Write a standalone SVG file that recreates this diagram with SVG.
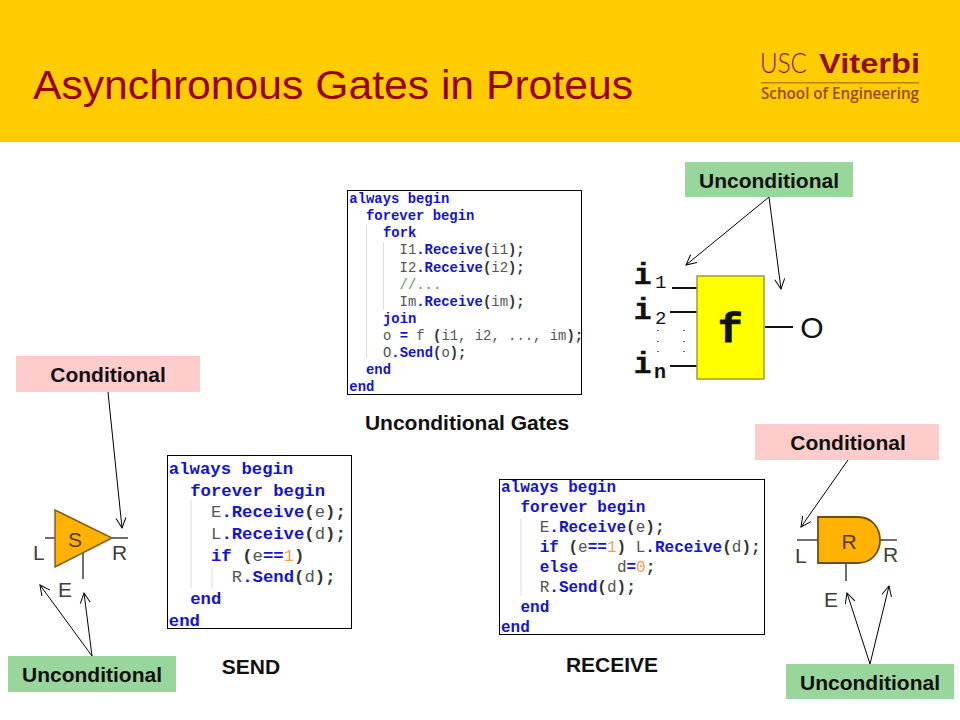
<svg xmlns="http://www.w3.org/2000/svg" width="960" height="720" viewBox="0 0 960 720">
<style>
.lbl{font-family:"Liberation Sans",Arial,sans-serif;font-weight:700;font-size:21px;fill:#111;text-anchor:middle}
.gl{font-family:"Liberation Sans",Arial,sans-serif;fill:#404040;font-size:21px}
.gi{fill:#5a3a00}
.code{font-family:"Liberation Mono","Courier New",monospace;fill:#555;white-space:pre}
.c1{font-size:13.9px}.c2{font-size:17.3px}.c3{font-size:16px}
.k{fill:#1414c8;font-weight:700}.p{fill:#333;font-weight:700}.n{fill:#f0a050}.g{fill:#5a9a5a}
.box{fill:#fff;stroke:#000;stroke-width:1}
.guide{stroke:#ddd;stroke-width:1;fill:none}
.green{fill:#99d69b}.pink{fill:#ffcccc}
.wire{stroke:#404040;stroke-width:1.5;fill:none}
.wireb{stroke:#111;stroke-width:2;fill:none}
.conn{stroke:#000;stroke-width:1;fill:none;marker-end:url(#arr)}
.mono{font-family:"Liberation Mono","Courier New",monospace;font-weight:700;fill:#111}
.sub{font-family:"Liberation Mono","Courier New",monospace;font-weight:400;fill:#111;font-size:19px}
</style>
<defs>
<marker id="arr" markerUnits="userSpaceOnUse" markerWidth="16" markerHeight="16" refX="13" refY="8" orient="auto">
<path d="M3 3 L13 8 L3 13" fill="none" stroke="#000" stroke-width="1"/>
</marker>
</defs>
<rect width="960" height="720" fill="#fff"/>
<g id="header">
<rect width="960" height="142" fill="#ffcc00"/>
<text x="33" y="99" font-family="Liberation Sans,Arial,sans-serif" font-size="40" fill="#990000" textLength="600" lengthAdjust="spacingAndGlyphs">Asynchronous Gates in Proteus</text>
</g>
<g id="logo">
<text x="760" y="73" font-family="Lato,Liberation Sans,sans-serif" font-weight="300" font-size="28" fill="#8f1010" textLength="47" lengthAdjust="spacingAndGlyphs">USC</text>
<text x="819" y="73" font-family="Liberation Sans,Arial,sans-serif" font-weight="700" font-size="28" fill="#8f1010" textLength="101" lengthAdjust="spacingAndGlyphs">Viterbi</text>
<rect x="761" y="82" width="158" height="1.5" fill="#b8860b"/>
<text x="761" y="99" font-family="Open Sans,Liberation Sans,sans-serif" font-weight="600" font-size="15.5" fill="#9a4a00" textLength="158" lengthAdjust="spacingAndGlyphs">School of Engineering</text>
</g>

<g id="code-unconditional">
<rect class="box" x="347.5" y="190.5" width="234" height="204"/>
<path class="guide" d="M366.5 225V358M383.5 242V310"/>
<g class="code c1" transform="translate(0 0.7)">
<text x="349.3" y="202.5" class="k">always begin</text>
<text x="366" y="219.6" class="k">forever begin</text>
<text x="383" y="236.7" class="k">fork</text>
<text x="399.6" y="253.8">I1<tspan class="k">.Receive</tspan><tspan class="p">(</tspan>i1<tspan class="p">);</tspan></text>
<text x="399.6" y="270.9">I2<tspan class="k">.Receive</tspan><tspan class="p">(</tspan>i2<tspan class="p">);</tspan></text>
<text x="399.6" y="288" class="g">//...</text>
<text x="399.6" y="305.1">Im<tspan class="k">.Receive</tspan><tspan class="p">(</tspan>im<tspan class="p">);</tspan></text>
<text x="383" y="322.2" class="k">join</text>
<text x="383" y="339.3">o <tspan class="k">=</tspan> f <tspan class="p">(</tspan>i1, i2, ..., im<tspan class="p">);</tspan></text>
<text x="383" y="356.4">O<tspan class="k">.Send</tspan><tspan class="p">(</tspan>o<tspan class="p">);</tspan></text>
<text x="366" y="373.5" class="k">end</text>
<text x="349.3" y="390.7" class="k">end</text>
</g>
</g>
<text id="label-unconditional-gates" class="lbl" x="467" y="430">Unconditional Gates</text>

<g id="code-send">
<rect class="box" x="167.5" y="455.5" width="184" height="173"/>
<path class="guide" d="M191 500V588M212 567V588"/>
<g class="code c2" transform="translate(-0.5 0.8)">
<text x="169.3" y="473.3" class="k">always begin</text>
<text x="190.7" y="495" class="k">forever begin</text>
<text x="211.5" y="516.7">E<tspan class="k">.Receive</tspan><tspan class="p">(</tspan>e<tspan class="p">);</tspan></text>
<text x="211.5" y="538.4">L<tspan class="k">.Receive</tspan><tspan class="p">(</tspan>d<tspan class="p">);</tspan></text>
<text x="211.5" y="560"><tspan class="k">if</tspan> <tspan class="p">(</tspan>e<tspan class="k">==</tspan><tspan class="n">1</tspan><tspan class="p">)</tspan></text>
<text x="232.3" y="581.7">R<tspan class="k">.Send</tspan><tspan class="p">(</tspan>d<tspan class="p">);</tspan></text>
<text x="190.7" y="603.4" class="k">end</text>
<text x="169.3" y="625" class="k">end</text>
</g>
</g>
<text id="label-send" class="lbl" x="251" y="674">SEND</text>

<g id="code-receive">
<rect class="box" x="499.5" y="479.5" width="265" height="155"/>
<path class="guide" d="M521 518V596"/>
<g class="code c3" transform="translate(0 0.6)">
<text x="501" y="491.7" class="k">always begin</text>
<text x="520.5" y="511.7" class="k">forever begin</text>
<text x="539.7" y="531.7">E<tspan class="k">.Receive</tspan><tspan class="p">(</tspan>e<tspan class="p">);</tspan></text>
<text x="539.7" y="551.7"><tspan class="k">if</tspan> <tspan class="p">(</tspan>e<tspan class="k">==</tspan><tspan class="n">1</tspan><tspan class="p">)</tspan> L<tspan class="k">.Receive</tspan><tspan class="p">(</tspan>d<tspan class="p">);</tspan></text>
<text x="539.7" y="571.7"><tspan class="k">else</tspan><tspan x="616.9">d</tspan><tspan class="k">=</tspan><tspan class="n">0</tspan><tspan class="p">;</tspan></text>
<text x="539.7" y="591.7">R<tspan class="k">.Send</tspan><tspan class="p">(</tspan>d<tspan class="p">);</tspan></text>
<text x="520.5" y="611.7" class="k">end</text>
<text x="501" y="631.7" class="k">end</text>
</g>
</g>
<text id="label-receive" class="lbl" x="612" y="672">RECEIVE</text>

<g id="gate-f">
<path class="wireb" d="M672 288H697M670 312H697M670 366H697M765 327H793"/>
<rect x="697" y="276" width="67" height="103" fill="#ffff00" stroke="#a89a2a" stroke-width="1.5"/>
<text class="mono" x="718" y="342" font-size="41" stroke="#111" stroke-width="1">f</text>
<text class="mono" x="634" y="284" font-size="29" stroke="#111" stroke-width="0.6">i</text>
<text class="sub" x="655" y="288">1</text>
<text class="mono" x="634" y="319" font-size="29" stroke="#111" stroke-width="0.6">i</text>
<text class="sub" x="655" y="324">2</text>
<text class="mono" x="634" y="373" font-size="29" stroke="#111" stroke-width="0.6">i</text>
<text class="mono" x="654" y="378" font-size="20">n</text>
<text x="812" y="338" font-family="Liberation Sans,Arial,sans-serif" font-size="30" fill="#111" text-anchor="middle">O</text>
<path d="M658 330v1M658 341v1M658 351v1M684 330v1M684 341v1M684 351v1" stroke="#333" stroke-width="1.5"/>
</g>

<g id="gate-send">
<path class="wire" d="M45 538H55M112 538H128M83 553V579"/>
<path d="M55 510L112 538L55 567Z" fill="#ffb300" stroke="#7a6020" stroke-width="1.5"/>
<text class="gl gi" x="75" y="547" text-anchor="middle">S</text>
<text class="gl" x="33" y="560">L</text>
<text class="gl" x="112" y="560">R</text>
<text class="gl" x="58" y="597">E</text>
</g>

<g id="gate-receive">
<path class="wire" d="M797 540H818M880 540H897M846 563V581"/>
<path d="M818 517H858C872 517 880 528 880 540C880 552 872 563 858 563H818Z" fill="#ffb300" stroke="#6a5010" stroke-width="1.8"/>
<text class="gl gi" x="849" y="549" text-anchor="middle">R</text>
<text class="gl" x="795" y="563">L</text>
<text class="gl" x="883" y="562">R</text>
<text class="gl" x="824" y="607">E</text>
</g>

<g id="connectors">
<path class="conn" d="M769 197L686 265"/>
<path class="conn" d="M769 197L781 289"/>
<path class="conn" d="M108 392L122 528"/>
<path class="conn" d="M92 656L40 585"/>
<path class="conn" d="M92 656L84 593"/>
<path class="conn" d="M848 460L801 527"/>
<path class="conn" d="M870 664L847 593"/>
<path class="conn" d="M870 664L889 586"/>
</g>

<g id="tag-unconditional-top"><rect class="green" x="685" y="162" width="168" height="35"/><text class="lbl" x="769" y="188">Unconditional</text></g>
<g id="tag-conditional-left"><rect class="pink" x="16" y="356" width="184" height="36"/><text class="lbl" x="108" y="382">Conditional</text></g>
<g id="tag-conditional-right"><rect class="pink" x="755" y="424" width="184" height="36"/><text class="lbl" x="848" y="450">Conditional</text></g>
<g id="tag-unconditional-left"><rect class="green" x="8" y="656" width="168" height="36"/><text class="lbl" x="92" y="682">Unconditional</text></g>
<g id="tag-unconditional-right"><rect class="green" x="786" y="664" width="168" height="35"/><text class="lbl" x="870" y="690">Unconditional</text></g>
</svg>
